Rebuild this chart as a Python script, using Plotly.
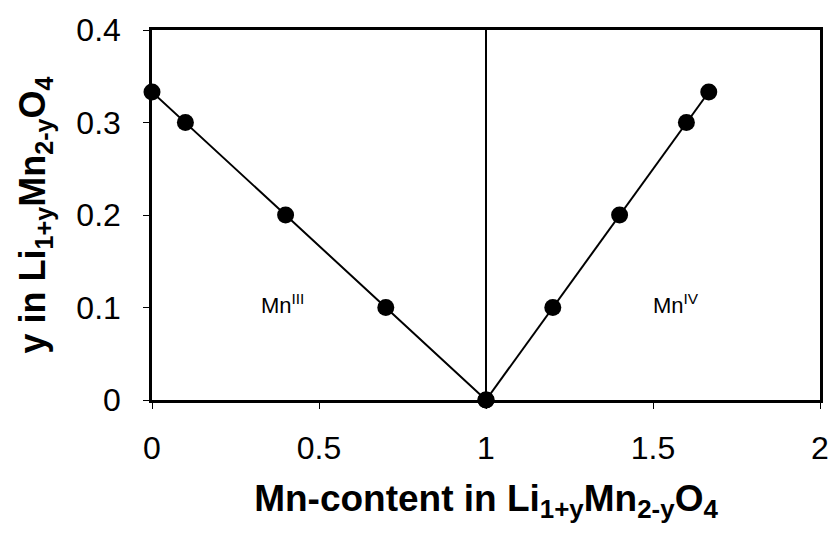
import plotly.graph_objects as go

# Data
x_mn3 = [0.0, 0.1, 0.4, 0.7, 1.0]
y_mn3 = [0.333, 0.3, 0.2, 0.1, 0.0]
x_mn4 = [1.0, 1.2, 1.4, 1.6, 1.667]
y_mn4 = [0.0, 0.1, 0.2, 0.3, 0.333]
divider_x = [1.0, 1.0]
divider_y = [0.0, 0.4]
x_ticks = [0, 0.5, 1, 1.5, 2]
x_ticklabels = ["0", "0.5", "1", "1.5", "2"]
y_ticks = [0, 0.1, 0.2, 0.3, 0.4]
y_ticklabels = ["0", "0.1", "0.2", "0.3", "0.4"]
labels = [("Mn<sup>III</sup>", 0.39, 0.104), ("Mn<sup>IV</sup>", 1.57, 0.104)]

FONT = "Liberation Sans, Arial, sans-serif"

fig = go.Figure()
fig.add_trace(go.Scatter(x=divider_x, y=divider_y, mode="lines",
                         line=dict(color="black", width=2), showlegend=False, hoverinfo="skip"))
for xs, ys in [(x_mn3, y_mn3), (x_mn4, y_mn4)]:
    fig.add_trace(go.Scatter(x=xs, y=ys, mode="lines+markers",
                             line=dict(color="black", width=2),
                             marker=dict(color="black", size=17, symbol="circle"),
                             showlegend=False, cliponaxis=False))

for text, x, y in labels:
    fig.add_annotation(x=x, y=y, text=text, showarrow=False,
                       font=dict(family=FONT, size=22, color="black"),
                       xanchor="center", yanchor="middle")

axis_common = dict(showline=True, linecolor="black", linewidth=2.5, mirror=True,
                   ticks="outside", ticklen=6, tickcolor="black", tickwidth=1,
                   showgrid=False, zeroline=False,
                   tickfont=dict(family=FONT, size=32, color="black"))

fig.update_xaxes(range=[0, 2], tickvals=x_ticks, ticktext=x_ticklabels,
                 title=dict(text="<b>Mn-content in Li<sub>1+y</sub>Mn<sub>2-y</sub>O<sub>4</sub></b>",
                            font=dict(family=FONT, size=37, color="black"), standoff=20),
                 ticklabelstandoff=12, **axis_common)
fig.update_yaxes(range=[0, 0.4], tickvals=y_ticks, ticktext=y_ticklabels,
                 title=dict(text="<b>y in Li<sub>1+y</sub>Mn<sub>2-y</sub>O<sub>4</sub></b>",
                            font=dict(family=FONT, size=36, color="black"), standoff=20),
                 ticklabelstandoff=16, **axis_common)

fig.update_layout(width=831, height=545, margin=dict(l=152, r=11, t=30, b=145, autoexpand=False),
                  plot_bgcolor="white", paper_bgcolor="white",
                  font=dict(family=FONT, color="black"))

fig.write_html("out.html", config={"displayModeBar": False},
               post_script="document.body.style.margin='0';")
